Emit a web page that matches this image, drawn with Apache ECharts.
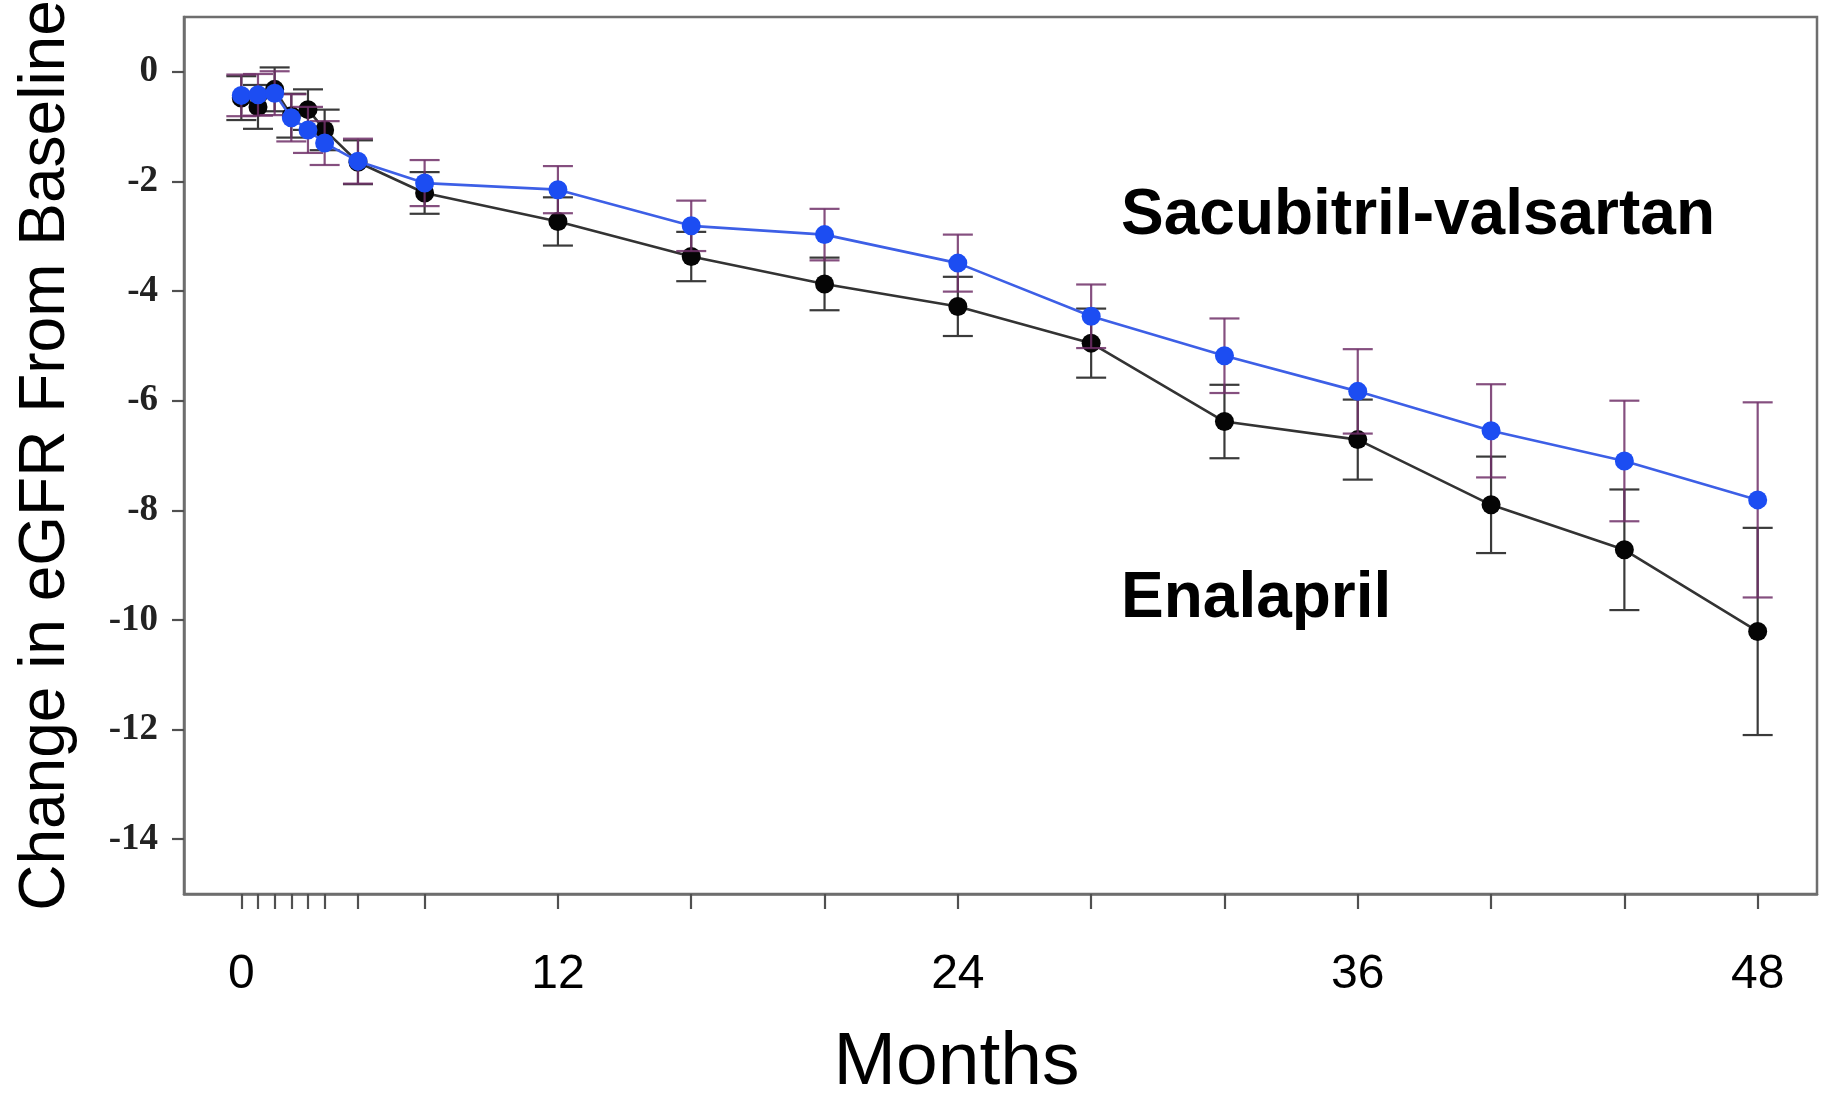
<!DOCTYPE html>
<html>
<head>
<meta charset="utf-8">
<title>Change in eGFR From Baseline</title>
<script src="https://cdn.jsdelivr.net/npm/echarts@6/dist/echarts.min.js"></script>
<style>
  html, body { margin: 0; padding: 0; background: #fff; }
  #chart { width: 1825px; height: 1094px; }
</style>
</head>
<body>
<div id="chart"></div>
<script>
// Follow-up visits (months) and the mean change in eGFR with its error half-width
const visitMonths = [2.5, 3, 3.5, 4, 4.5, 5, 6, 8, 12, 16, 20, 24, 28, 32, 36, 40, 44, 48];

const sacubitrilMean = [-0.43, -0.42, -0.39, -0.84, -1.06, -1.30, -1.63, -2.03, -2.15, -2.81, -2.97, -3.49, -4.46, -5.18, -5.83, -6.55, -7.10, -7.81];
const sacubitrilErr  = [0.38, 0.38, 0.40, 0.43, 0.42, 0.40, 0.41, 0.42, 0.43, 0.46, 0.47, 0.52, 0.58, 0.68, 0.77, 0.85, 1.10, 1.78];

const enalaprilMean = [-0.48, -0.64, -0.32, -0.80, -0.69, -1.06, -1.65, -2.21, -2.73, -3.37, -3.87, -4.28, -4.95, -6.38, -6.71, -7.90, -8.72, -10.21];
const enalaprilErr  = [0.40, 0.40, 0.40, 0.40, 0.37, 0.37, 0.40, 0.38, 0.44, 0.45, 0.48, 0.54, 0.63, 0.67, 0.73, 0.88, 1.10, 1.89];

// Axis labels
const xLabelAt   = [2.5, 12, 24, 36, 48];
const xLabelText = ['0', '12', '24', '36', '48'];
const yTicks     = [0, -2, -4, -6, -8, -10, -12, -14];

const chart = echarts.init(document.getElementById('chart'), null, { renderer: 'canvas' });

function pairs(means) {
  return visitMonths.map((m, i) => [m, means[i]]);
}

function errorData(means, errs) {
  return visitMonths.map((m, i) => [m, means[i] - errs[i], means[i] + errs[i]]);
}

// Vertical bar with end caps for each visit
function errorBars(color) {
  return function (params, api) {
    const x = api.value(0);
    const lo = api.coord([x, api.value(1)]);
    const hi = api.coord([x, api.value(2)]);
    const half = 15;
    const style = { stroke: color, lineWidth: 2.2 };
    return {
      type: 'group',
      children: [
        { type: 'line', shape: { x1: hi[0], y1: hi[1], x2: lo[0], y2: lo[1] }, style },
        { type: 'line', shape: { x1: hi[0] - half, y1: hi[1], x2: hi[0] + half, y2: hi[1] }, style },
        { type: 'line', shape: { x1: lo[0] - half, y1: lo[1], x2: lo[0] + half, y2: lo[1] }, style }
      ]
    };
  };
}

function nearestLabel(v) {
  let best = 0;
  for (let i = 1; i < xLabelAt.length; i++) {
    if (Math.abs(xLabelAt[i] - v) < Math.abs(xLabelAt[best] - v)) best = i;
  }
  return xLabelText[best];
}

const axisGray = '#6e6e6e';
const sans = 'Liberation Sans, Arial, sans-serif';

const option = {
  animation: false,
  backgroundColor: '#ffffff',
  grid: {
    left: 184, right: 8, top: 17, bottom: 200,
    containLabel: false,
    outerBoundsMode: 'none',
    show: true, borderColor: axisGray, borderWidth: 2.5
  },
  xAxis: {
    type: 'value',
    min: 0.78, max: 49.78,
    splitLine: { show: false },
    axisLine: { onZero: false, lineStyle: { color: axisGray, width: 2.5 } },
    axisTick: { customValues: visitMonths, length: 15, lineStyle: { color: '#505050', width: 2.2 } },
    axisLabel: {
      customValues: xLabelAt,
      formatter: v => nearestLabel(v),
      fontFamily: sans,
      fontSize: 48, color: '#000', margin: 57
    },
    name: 'Months',
    nameLocation: 'middle',
    nameGap: 132,
    nameTextStyle: { fontFamily: sans, fontSize: 75, color: '#000', padding: [0, 88, 0, 0] }
  },
  yAxis: {
    type: 'value',
    min: -15, max: 1,
    splitLine: { show: false },
    axisLine: { lineStyle: { color: axisGray, width: 2.5 } },
    axisTick: { customValues: yTicks, length: 12, lineStyle: { color: '#505050', width: 2.2 } },
    axisLabel: {
      customValues: yTicks,
      fontFamily: 'Liberation Serif, Times New Roman, serif',
      fontWeight: 'bold', fontSize: 37, color: '#222', margin: 26
    },
    name: 'Change in eGFR From Baseline',
    nameLocation: 'middle',
    nameGap: 106,
    nameTextStyle: { fontFamily: sans, fontSize: 64, color: '#000' }
  },
  graphic: [
    {
      type: 'text', left: 1121, top: 184, z: 10,
      style: { text: 'Sacubitril-valsartan', fontFamily: sans, fontWeight: 'bold', fontSize: 64, fill: '#000' }
    },
    {
      type: 'text', left: 1121, top: 567, z: 10,
      style: { text: 'Enalapril', fontFamily: sans, fontWeight: 'bold', fontSize: 64, fill: '#000' }
    }
  ],
  series: [
    {
      name: 'Enalapril error',
      type: 'custom',
      renderItem: errorBars('#3a3a3a'),
      data: errorData(enalaprilMean, enalaprilErr),
      z: 1, silent: true
    },
    {
      name: 'Enalapril',
      type: 'line',
      data: pairs(enalaprilMean),
      symbol: 'circle', symbolSize: 19,
      lineStyle: { color: '#333333', width: 2.6 },
      itemStyle: { color: '#050505' },
      z: 2
    },
    {
      name: 'Sacubitril-valsartan error',
      type: 'custom',
      renderItem: errorBars('rgba(112, 48, 104, 0.85)'),
      data: errorData(sacubitrilMean, sacubitrilErr),
      z: 3, silent: true
    },
    {
      name: 'Sacubitril-valsartan',
      type: 'line',
      data: pairs(sacubitrilMean),
      symbol: 'circle', symbolSize: 19,
      lineStyle: { color: '#3d5fe6', width: 2.6 },
      itemStyle: { color: '#1c4df2' },
      z: 4
    }
  ]
};

chart.setOption(option);
</script>
</body>
</html>
